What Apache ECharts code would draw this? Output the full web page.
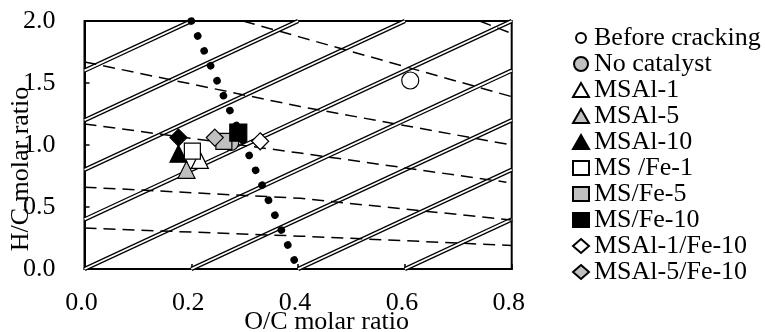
<!DOCTYPE html>
<html>
<head>
<meta charset="utf-8">
<script src="https://cdn.jsdelivr.net/npm/echarts@6/dist/echarts.min.js"></script>
<style>
  html, body { margin: 0; padding: 0; background: #fff; }
  #chart { width: 765px; height: 332px; }
</style>
</head>
<body>
<div id="chart"></div>
<script>
// Axis ticks
const xTicks = [0.0, 0.2, 0.4, 0.6, 0.8];
const yTicks = [0.0, 0.5, 1.0, 1.5, 2.0];

// Measured points (O/C, H/C)
const beforeCracking = [[0.610, 1.52]];
const noCatalyst     = [[0.274, 1.02]];
const msal1          = [[0.216, 0.88]];
const msal5          = [[0.191, 0.80]];
const msal10         = [[0.176, 0.93]];
const msFe1          = [[0.202, 0.95]];
const msFe5          = [[0.261, 1.03]];
const msFe10         = [[0.288, 1.10]];
const msal1Fe10      = [[0.329, 1.03]];
const msal5Fe10      = [[0.244, 1.06]];
const msal10Fe10     = [[0.176, 1.06]];

// Reference lines: double iso-lines (start, end)
const doubleLines = [
  [[0.0, 1.6], [0.2, 2.0]],
  [[0.0, 1.2], [0.4, 2.0]],
  [[0.0, 0.8], [0.6, 2.0]],
  [[0.0, 0.4], [0.8, 2.0]],
  [[0.0, 0.0], [0.8, 1.6]],
  [[0.2, 0.0], [0.8, 1.2]],
  [[0.4, 0.0], [0.8, 0.8]],
  [[0.6, 0.0], [0.8, 0.4]]
];
// Dashed lines
const dashedLines = [
  [[0.74, 2.0], [0.8, 1.90]],
  [[0.297, 2.0], [0.404, 1.87], [0.8, 1.39]],
  [[0.0, 1.67], [0.404, 1.31], [0.8, 1.00]],
  [[0.0, 1.17], [0.404, 0.935], [0.79, 0.70]],
  [[0.0, 0.66], [0.404, 0.57], [0.8, 0.395]],
  [[0.0, 0.33], [0.404, 0.265], [0.8, 0.19]]
];
// Dotted line
const dottedLine = [[0.2, 2.0], [0.4, 0.0]];

const FONT = "'Liberation Serif', 'Times New Roman', serif";
const GRAY = '#c0c0c0';

const series = [];

doubleLines.forEach(function (pts) {
  series.push({ type: 'line', data: pts, symbol: 'none', silent: true, z: 1,
    lineStyle: { color: '#000', width: 4.4 } });
  series.push({ type: 'line', data: pts, symbol: 'none', silent: true, z: 1,
    lineStyle: { color: '#fff', width: 1.8 } });
});
dashedLines.forEach(function (pts) {
  series.push({ type: 'line', data: pts, symbol: 'none', silent: true, z: 1,
    lineStyle: { color: '#000', width: 1.5, type: [12, 7] } });
});
series.push({ type: 'line', data: dottedLine, symbol: 'none', silent: true, z: 1,
  lineStyle: { color: '#000', width: 7.6, type: [0.01, 16.25], cap: 'round' } });

function scatter(name, data, symbol, fill, size) {
  return {
    name: name, type: 'scatter', data: data, symbol: symbol, symbolSize: size, z: 3,
    itemStyle: { color: fill, borderColor: '#000', borderWidth: 1.2, opacity: 1 }
  };
}

series.push(scatter('Before cracking', beforeCracking, 'circle', '#fff', 17));
series.push(scatter('No catalyst', noCatalyst, 'circle', GRAY, 16));
series.push(scatter('MSAl-1', msal1, 'triangle', '#fff', 17));
series.push(scatter('MSAl-5', msal5, 'triangle', GRAY, 17));
series.push(scatter('MSAl-10', msal10, 'triangle', '#000', 17));
series.push(scatter('MS /Fe-1', msFe1, 'rect', '#fff', 16));
series.push(scatter('MS/Fe-5', msFe5, 'rect', GRAY, 16));
series.push(scatter('MS/Fe-10', msFe10, 'rect', '#000', 17));
series.push(scatter('MSAl-1/Fe-10', msal1Fe10, 'diamond', '#fff', 17));
series.push(scatter('MSAl-5/Fe-10', msal5Fe10, 'diamond', GRAY, 17));
series.push(scatter('MSAl-10/Fe-10', msal10Fe10, 'diamond', '#000', 17));

const legendNames = ['Before cracking', 'No catalyst', 'MSAl-1', 'MSAl-5', 'MSAl-10',
  'MS /Fe-1', 'MS/Fe-5', 'MS/Fe-10', 'MSAl-1/Fe-10', 'MSAl-5/Fe-10'];
const legendData = legendNames.map(function (n, i) {
  // the first entry uses a smaller hollow circle
  return i === 0 ? { name: n, icon: 'path://M-9,-9M9,9M6.4,0A6.4,6.4,0,1,1,-6.4,0A6.4,6.4,0,1,1,6.4,0Z' } : { name: n };
});

const chart = echarts.init(document.getElementById('chart'), null, { renderer: 'canvas' });
chart.setOption({
  animation: false,
  backgroundColor: '#fff',
  textStyle: { fontFamily: FONT },
  grid: { left: 84.5, right: 253.3, top: 21, bottom: 63, show: true,
    containLabel: false, outerBoundsMode: 'none',
    borderColor: '#000', borderWidth: 2, backgroundColor: 'transparent' },
  legend: {
    data: legendData, orient: 'vertical', left: 567, top: 20,
    itemWidth: 16, itemHeight: 14, itemGap: 0, selectedMode: false,
    textStyle: { fontFamily: FONT, fontSize: 26, lineHeight: 26, color: '#000' }
  },
  xAxis: {
    type: 'value', min: xTicks[0], max: xTicks[xTicks.length - 1], interval: 0.2,
    name: 'O/C molar ratio', nameLocation: 'middle', nameGap: 40, nameMoveOverlap: false,
    nameTextStyle: { fontFamily: FONT, fontSize: 26, color: '#000', padding: [0, 0, 0, 57] },
    axisLine: { onZero: false, lineStyle: { color: '#000', width: 2 } },
    axisTick: { inside: true, length: 5, lineStyle: { color: '#000', width: 1.5 } },
    axisLabel: { fontFamily: FONT, fontSize: 26, color: '#000', margin: 21, padding: [0, 6, 0, 0],
      formatter: function (v) { return v.toFixed(1); } },
    splitLine: { show: false }
  },
  yAxis: {
    type: 'value', min: yTicks[0], max: yTicks[yTicks.length - 1], interval: 0.5,
    name: 'H/C molar ratio', nameLocation: 'middle', nameGap: 50, nameMoveOverlap: false,
    nameTextStyle: { fontFamily: FONT, fontSize: 26, color: '#000', padding: [0, 48, 0, 0] },
    axisLine: { onZero: false, lineStyle: { color: '#000', width: 2 } },
    axisTick: { inside: true, length: 5, lineStyle: { color: '#000', width: 1.5 } },
    axisLabel: { fontFamily: FONT, fontSize: 26, color: '#000', margin: 29,
      formatter: function (v) { return v.toFixed(1); } },
    splitLine: { show: false }
  },
  series: series
});
</script>
</body>
</html>
